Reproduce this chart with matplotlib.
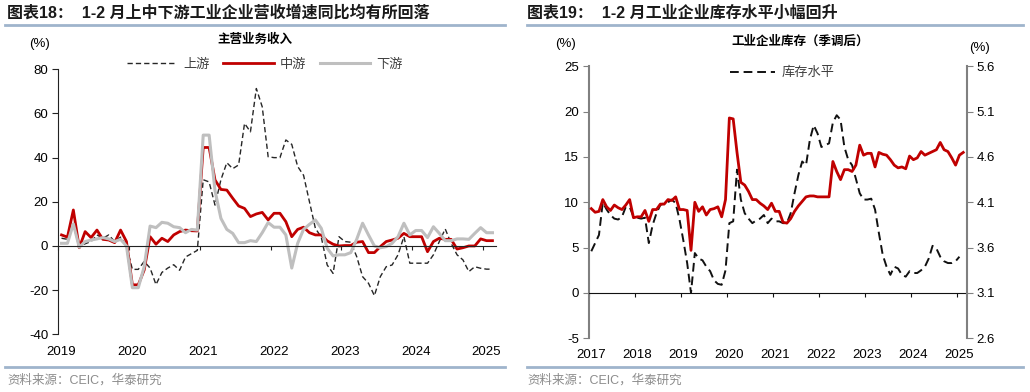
import numpy as np
import matplotlib
matplotlib.use('Agg')
import matplotlib.pyplot as plt
import matplotlib.transforms as mtransforms

plt.rcParams['font.family'] = ['Liberation Sans', 'Noto Sans CJK SC']
plt.rcParams['axes.unicode_minus'] = False

# ---- chart 18: revenue growth by segment, 2019-01 .. 2025-02 (monthly, %)
years_l = ['2019', '2020', '2021', '2022', '2023', '2024', '2025']
upstream = [3.5, 3.0, 9.5, -0.6, 1.0, 2.0, 5.0, 3.5, 5.0, 2.0, 4.0, 0.0,
            -10.6, -10.6, -7.0, -10.0, -17.5, -12.0, -10.0, -8.5, -11.0, -5.0, -3.5, -2.0,
            30.0, 29.0, 18.5, 30.0, 37.7, 35.0, 36.7, 55.5, 51.7, 71.3, 63.0, 40.4,
            40.0, 40.0, 48.0, 46.0, 36.0, 32.0, 20.0, 8.0, 4.0, -8.6, -12.4, 4.2,
            2.0, 1.7, -4.8, -13.9, -16.9, -22.5, -13.9, -9.4, -8.6, -4.0, 4.2, -7.8,
            -7.8, -7.8, -7.8, -4.0, 2.0, 7.7, 1.2, -4.0, -6.3, -11.6, -9.4, -10.1,
            -10.5, -10.5]
midstream = [5.0, 4.0, 16.3, -0.8, 6.5, 3.8, 7.2, 3.0, 2.7, 1.5, 7.2, 2.0,
             -17.6, -17.6, -10.9, 4.2, 0.8, 3.5, 2.0, 5.0, 6.5, 7.2, 6.9, 6.8,
             44.6, 44.6, 29.9, 25.6, 25.3, 21.6, 18.1, 17.0, 13.3, 14.5, 15.2, 11.8,
             14.8, 14.8, 11.0, 4.2, 7.5, 8.5, 6.0, 5.0, 5.0, 2.3, 0.8, 0.0,
             0.2, 0.2, 1.7, 2.0, -3.0, -3.0, -0.3, 2.0, 2.7, 3.5, 5.7, 4.2,
             4.2, 4.2, -2.6, 2.0, 3.5, 3.0, 3.0, -1.4, -0.8, 0.0, 0.0, 3.2,
             2.4, 2.4]
downstream = [1.2, 1.2, 10.0, -0.6, 2.0, 2.7, 3.2, 3.8, 3.2, 2.0, 3.0, 0.0,
              -18.9, -18.9, -9.4, 9.0, 8.3, 10.7, 10.3, 8.7, 8.3, 6.0, 7.5, 7.2,
              50.2, 50.2, 25.0, 12.5, 7.5, 5.7, 1.5, 1.5, 2.4, 2.0, 6.0, 10.6,
              8.5, 8.5, 5.0, -10.0, 1.2, 7.5, 9.8, 11.8, 8.0, -1.0, -4.5, -4.0,
              -4.0, -3.0, 3.0, 10.3, 5.0, 0.0, -0.8, -0.3, 1.2, 4.2, 10.3, 5.0,
              7.0, 7.0, 3.8, 8.7, 5.7, 2.4, 2.4, 3.2, 3.2, 3.0, 5.7, 8.3,
              6.0, 6.0]

# ---- chart 19: industrial inventory, 2017-01 .. 2025-02
years_r = ['2017', '2018', '2019', '2020', '2021', '2022', '2023', '2024', '2025']
inventory = [4.6, 5.5, 6.4, 10.0, 9.2, 8.6, 8.2, 8.1, 8.4, 9.5, 9.5, 8.4,
             8.3, 8.2, 8.3, 5.5, 7.5, 8.8, 9.7, 9.9, 10.0, 10.3, 9.9, 8.1,
             5.8, 3.3, 0.0, 4.4, 3.8, 3.6, 2.9, 2.4, 1.4, 1.0, 0.9, 2.5,
             7.7, 7.9, 13.6, 10.3, 8.8, 8.2, 7.7, 8.0, 8.2, 8.6, 7.7, 8.2,
             7.9, 7.9, 7.7, 7.7, 8.8, 11.0, 13.0, 14.5, 14.1, 16.9, 18.5, 17.6,
             16.1, 16.3, 16.5, 18.8, 19.6, 19.1, 16.1, 14.7, 14.1, 12.6, 11.0, 10.3,
             10.3, 10.4, 9.2, 6.6, 4.2, 2.9, 2.0, 2.9, 2.7, 2.0, 1.8, 2.4,
             2.2, 2.2, 2.5, 2.9, 3.8, 5.2, 4.9, 4.0, 3.5, 3.3, 3.3, 3.5,
             4.0]
ratio = [4.03, 3.99, 4.00, 4.13, 4.05, 4.01, 4.07, 4.04, 4.02, 4.07, 4.13, 3.93,
         3.94, 3.94, 4.01, 3.89, 4.02, 4.02, 4.08, 4.08, 4.13, 4.12, 4.16, 4.02,
         4.02, 4.01, 3.57, 4.10, 4.00, 4.05, 3.96, 4.02, 4.03, 4.05, 3.94, 4.13,
         5.03, 5.02, 4.65, 4.32, 4.29, 4.22, 4.13, 4.13, 4.09, 4.06, 4.02, 4.09,
         4.00, 4.00, 3.88, 3.87, 3.92, 4.00, 4.06, 4.11, 4.16, 4.17, 4.17, 4.16,
         4.16, 4.16, 4.16, 4.55, 4.44, 4.35, 4.46, 4.46, 4.44, 4.51, 4.73, 4.62,
         4.64, 4.64, 4.49, 4.65, 4.63, 4.62, 4.57, 4.51, 4.48, 4.49, 4.47, 4.61,
         4.57, 4.59, 4.66, 4.62, 4.64, 4.66, 4.68, 4.76, 4.68, 4.66, 4.59, 4.51,
         4.62, 4.65]

RED = '#C00000'
GRAY = '#BFBFBF'
SPINE_GRAY = '#808080'
BLUE_LINE = '#9FB4CC'

fig = plt.figure(figsize=(10.3, 3.92), dpi=100)

# header / footer decorations
fig.text(7 / 1030, 1 - 13 / 392, '图表18：  1-2 月上中下游工业企业营收增速同比均有所回落',
         fontsize=11.5, fontweight='bold', va='center', ha='left', color='#1a1a1a')
fig.text(527 / 1030, 1 - 13 / 392, '图表19：  1-2 月工业企业库存水平小幅回升',
         fontsize=11.5, fontweight='bold', va='center', ha='left', color='#1a1a1a')
for x0, x1 in [(5, 505), (527, 1023)]:
    fig.add_artist(plt.Line2D([x0 / 1030, x1 / 1030], [1 - 25 / 392] * 2, color=BLUE_LINE, lw=2))
    fig.add_artist(plt.Line2D([x0 / 1030, x1 / 1030], [1 - 367 / 392] * 2, color=BLUE_LINE, lw=2))
fig.text(7 / 1030, 1 - 380 / 392, '资料来源：CEIC，华泰研究', fontsize=9, color='#8c8c8c', va='center')
fig.text(527 / 1030, 1 - 380 / 392, '资料来源：CEIC，华泰研究', fontsize=9, color='#8c8c8c', va='center')

# ---------------- left chart
ax1 = fig.add_axes([58 / 1030, 1 - 334.3 / 392, (496 - 58) / 1030, 265 / 392])
xl = np.arange(len(midstream)) + 0.6
ax1.plot(xl, upstream, color='#262626', lw=1.0, ls=(0, (3.8, 2.2)), label='上游')
ax1.plot(xl, midstream, color=RED, lw=2.0, label='中游')
ax1.plot(xl, downstream, color=GRAY, lw=2.2, label='下游')
ax1.set_xlim(0, 74.2)
ax1.set_ylim(-40, 80)
ax1.set_yticks(range(-40, 81, 20))
for s in ['top', 'right']:
    ax1.spines[s].set_visible(False)
ax1.spines['left'].set_color('#222222')
ax1.spines['bottom'].set_position(('data', 0))
ax1.spines['bottom'].set_color('#222222')
ax1.set_xticks(range(0, 73, 12))
ax1.tick_params(axis='x', direction='out', length=3, labelbottom=False, color='#222222')
ax1.tick_params(axis='y', direction='out', length=4, labelsize=9.5, pad=3, color='#222222')
tr1 = mtransforms.blended_transform_factory(ax1.transData, ax1.transAxes)
for i, yr in enumerate(years_l):
    ax1.text(12 * i + 0.6, -0.045, yr, transform=tr1, ha='center', va='top', fontsize=9.5)
fig.text(40 / 1030, 1 - 44 / 392, '(%)', fontsize=9.5, ha='center', va='center')
fig.text(255 / 1030, 1 - 40 / 392, '主营业务收入', fontsize=9, fontweight='bold', ha='center', va='center')
fig.legend(handles=ax1.get_lines(), loc='center', bbox_to_anchor=(265 / 1030, 1 - 65 / 392),
           ncol=3, frameon=False, fontsize=9.5, handlelength=3.8, handletextpad=0.5,
           columnspacing=1.0, labelcolor='#404040')

# ---------------- right chart
ax2 = fig.add_axes([589 / 1030, 1 - 338.3 / 392, (966.7 - 589) / 1030, 272 / 392])
ax3 = ax2.twinx()
xr = np.arange(len(ratio)) + 0.6
ax2.plot(np.arange(len(inventory)) + 0.6, inventory, color='#111111', lw=1.4,
         ls=(0, (4.5, 2.5)), label='库存水平')
ax3.plot(xr, ratio, color=RED, lw=2.0)
ax2.set_xlim(0, 98.5)
ax2.set_ylim(-5, 25)
ax3.set_ylim(2.6, 5.6)
ax2.set_yticks(range(-5, 26, 5))
ax3.set_yticks(np.arange(2.6, 5.61, 0.5))
ax3.set_yticklabels([f'{v:.1f}' for v in np.arange(2.6, 5.61, 0.5)])
ax2.spines['top'].set_visible(False)
ax2.spines['right'].set_visible(False)
ax2.spines['left'].set_color(SPINE_GRAY)
ax2.spines['left'].set_linewidth(1.5)
ax2.spines['bottom'].set_position(('data', 0))
ax2.spines['bottom'].set_color('#111111')
for s in ['top', 'left', 'bottom']:
    ax3.spines[s].set_visible(False)
ax3.spines['right'].set_color(SPINE_GRAY)
ax3.spines['right'].set_linewidth(1.5)
ax2.set_xticks(range(0, 97, 12))
ax2.tick_params(axis='x', direction='out', length=3, labelbottom=False, color='#111111')
ax2.tick_params(axis='y', direction='out', length=4, labelsize=9.5, pad=3, color=SPINE_GRAY)
ax3.tick_params(axis='y', direction='out', length=4, labelsize=9.5, pad=3, color=SPINE_GRAY)
ax3.tick_params(axis='x', bottom=False, labelbottom=False)
tr2 = mtransforms.blended_transform_factory(ax2.transData, ax2.transAxes)
for i, yr in enumerate(years_r):
    ax2.text(12 * i + 0.5, -0.04, yr, transform=tr2, ha='center', va='top', fontsize=9.5)
fig.text(565 / 1030, 1 - 44 / 392, '(%)', fontsize=9.5, ha='center', va='center')
fig.text(980 / 1030, 1 - 48 / 392, '(%)', fontsize=9.5, ha='center', va='center')
fig.text(800 / 1030, 1 - 42 / 392, '工业企业库存（季调后）', fontsize=9, fontweight='bold',
         ha='center', va='center')
fig.legend(handles=ax2.get_lines(), loc='center', bbox_to_anchor=(782 / 1030, 1 - 73 / 392),
           frameon=False, fontsize=9.5, handlelength=3.4, handletextpad=0.5, labelcolor='#404040')

fig.savefig('out.png', dpi=100)
